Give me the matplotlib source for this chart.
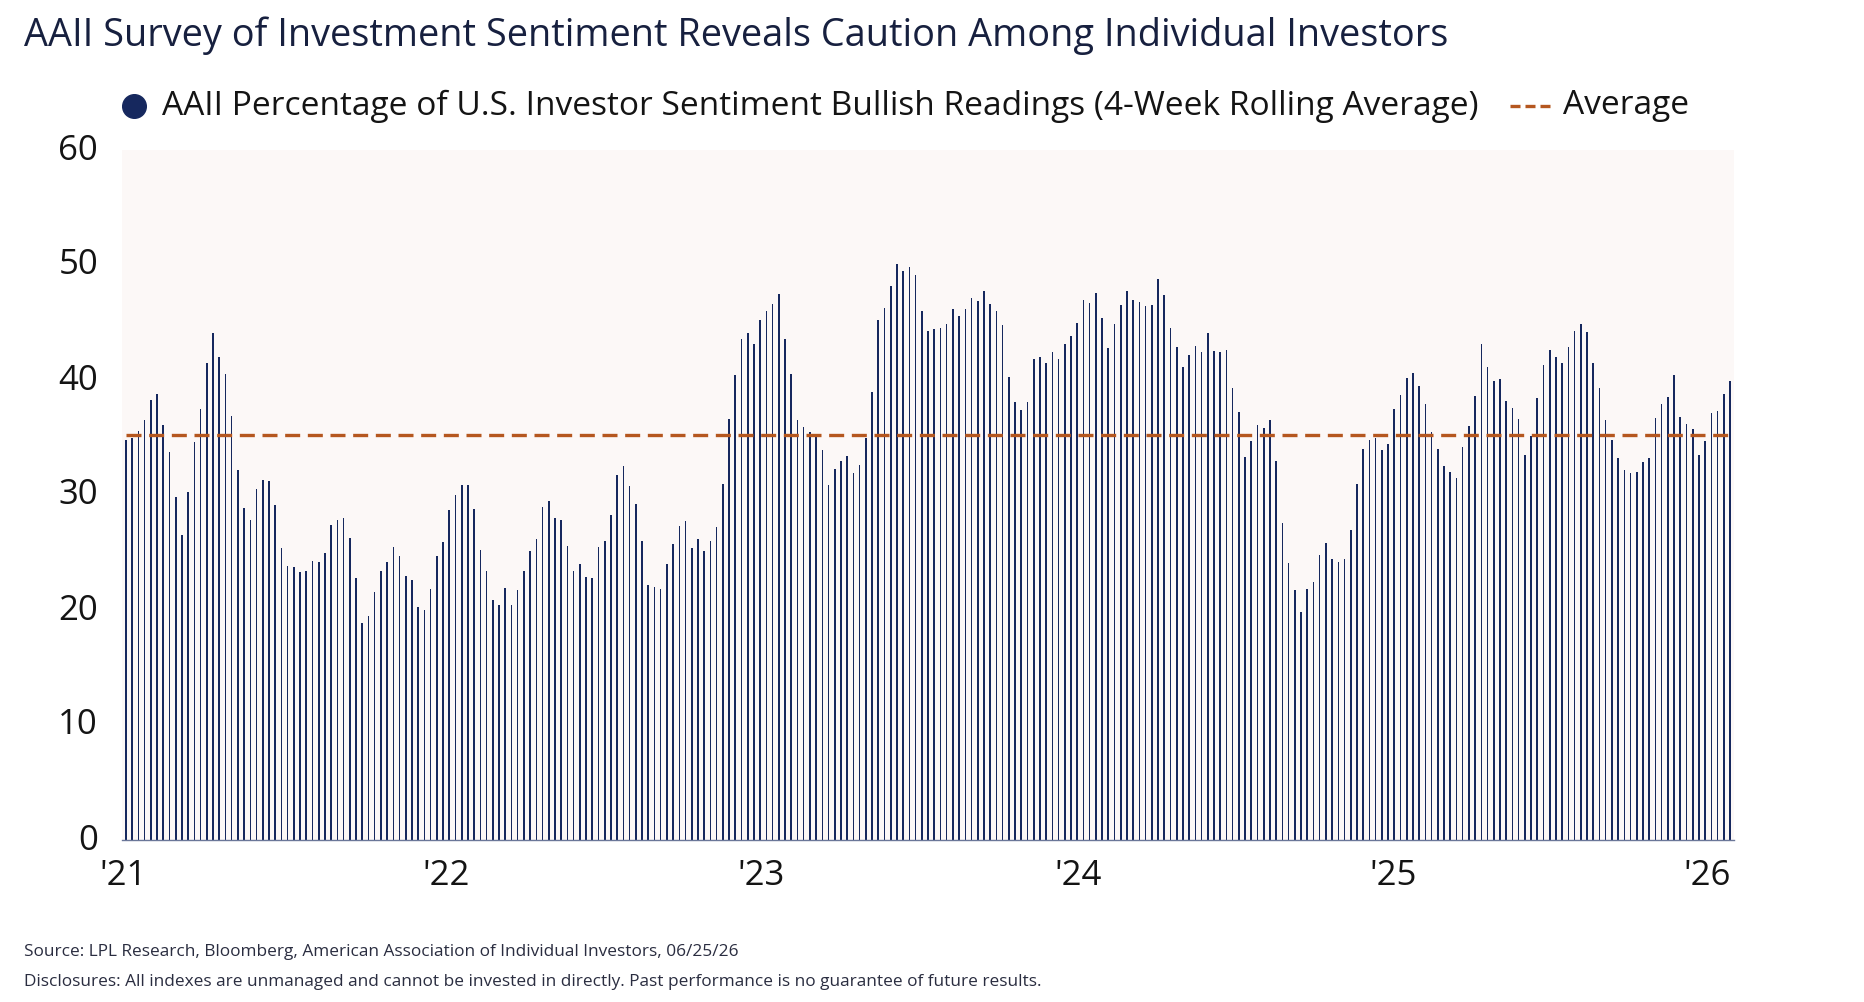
import matplotlib
matplotlib.use("Agg")
import matplotlib.pyplot as plt
from matplotlib.lines import Line2D
from matplotlib.transforms import ScaledTranslation
import numpy as np

plt.rcParams['font.family'] = ['Open Sans', 'DejaVu Sans']

# ---- data (weekly, 4-week rolling average of AAII bullish %) ----
bullish_4wk = [
    34.8, 35.0, 35.6, 36.5, 38.3, 38.8, 36.1, 33.7, 29.8, 26.5, 30.3, 34.6, 37.5, 41.5, 44.1, 42.0, 40.5,
    36.9, 32.2, 28.9, 27.8, 30.5, 31.3, 31.2, 29.1, 25.4, 23.8, 23.7, 23.3, 23.4, 24.3, 24.2, 25.0,
    27.4, 27.8, 28.0, 26.3, 22.8, 18.9, 19.5, 21.6, 23.4, 24.2, 25.5, 24.7, 23.0, 22.6, 20.3, 20.0,
    21.8, 24.7, 25.9, 28.7, 30.0, 30.9, 30.9, 28.8, 25.2, 23.4, 20.9, 20.4, 21.9, 20.4, 21.7, 23.4,
    25.1, 26.2, 29.0, 29.5, 28.0, 27.8, 25.6, 23.4, 24.0, 22.9, 22.8, 25.5, 26.0, 28.3, 31.7, 32.5,
    30.8, 29.2, 26.0, 22.2, 22.0, 21.8, 24.0, 25.7, 27.3, 27.7, 25.4, 26.2, 25.1, 26.0, 27.2, 31.0,
    36.6, 40.4, 43.6, 44.1, 43.1, 45.2, 46.0, 46.6, 47.5, 43.6, 40.5, 36.5, 35.9, 35.5, 35.2, 33.9,
    30.9, 32.3, 33.0, 33.4, 31.9, 32.6, 35.0, 39.0, 45.2, 46.3, 48.2, 50.1, 49.5, 49.8, 49.1, 46.0,
    44.3, 44.4, 44.5, 44.9, 46.2, 45.6, 46.2, 47.1, 46.9, 47.7, 46.6, 46.0, 44.8, 40.3, 38.1, 37.4,
    38.1, 41.8, 42.0, 41.5, 42.4, 41.8, 43.1, 43.8, 45.0, 47.0, 46.7, 47.6, 45.4, 42.8, 44.9, 46.5,
    47.7, 47.0, 46.8, 46.4, 46.5, 48.8, 47.4, 44.5, 42.9, 41.1, 42.2, 43.0, 42.4, 44.1, 42.5, 42.4,
    42.6, 39.3, 37.2, 33.3, 34.7, 36.1, 35.8, 36.5, 33.0, 27.6, 24.1, 21.7, 19.8, 21.8, 22.4, 24.8,
    25.8, 24.4, 24.2, 24.4, 27.0, 31.0, 34.0, 34.8, 35.0, 33.9, 34.4, 37.5, 38.7, 40.2, 40.6, 39.5,
    37.9, 35.5, 34.0, 32.5, 32.0, 31.5, 34.2, 36.0, 38.6, 43.1, 41.1, 39.9, 40.1, 38.2, 37.6, 36.6, 33.5,
    35.1, 38.4, 41.3, 42.6, 42.0, 41.5, 42.9, 44.3, 44.9, 44.2, 41.5, 39.3, 36.5, 34.8, 33.2, 32.2,
    31.9, 32.0, 32.9, 33.2, 36.7, 37.9, 38.5, 40.4, 36.8, 36.2, 35.7, 33.5, 34.7, 37.1, 37.3, 38.8, 39.9,
]
average_value = 35.2

year_labels = ["'21", "'22", "'23", "'24", "'25", "'26"]
year_tick_pos = [-0.5, 51.5, 102.2, 153.2, 203.8, 254.3]   # week index of each year label
y_ticks = [0, 10, 20, 30, 40, 50, 60]

title = "AAII Survey of Investment Sentiment Reveals Caution Among Individual Investors"
series_label = "AAII Percentage of U.S. Investor Sentiment Bullish Readings (4-Week Rolling Average)"
avg_label = "Average"
source = "Source: LPL Research, Bloomberg, American Association of Individual Investors, 06/25/26"
disclosure = "Disclosures: All indexes are unmanaged and cannot be invested in directly. Past performance is no guarantee of future results."

# ---- style ----
NAVY = '#16285e'
ORANGE = '#b5571f'
BG = '#fcf8f7'
TEXT = '#141414'
TITLE_C = '#17203f'

W, H = 1864, 1002
fig = plt.figure(figsize=(W / 100, H / 100), dpi=100)
fig.patch.set_facecolor('white')

ax = fig.add_axes([121.7 / W, 1 - 840 / H, (1734 - 121.7) / W, (840 - 150) / H])
ax.set_facecolor(BG)

x = np.arange(len(bullish_4wk))
ax.bar(x, bullish_4wk, width=0.26, color=NAVY, linewidth=0, zorder=2)
ax.plot([x[0], x[-1]], [average_value, average_value], color=ORANGE, lw=2.4,
        dashes=(4.5, 2.3), zorder=3)

ax.set_xlim(-0.69, len(bullish_4wk) - 1 + 0.64)
ax.set_ylim(0, 60)
ax.set_yticks(y_ticks)
ax.set_yticklabels([str(v) for v in y_ticks])
ax.set_xticks(year_tick_pos)
ax.set_xticklabels(year_labels)
ax.tick_params(axis='y', length=0, pad=17, labelsize=25, labelcolor=TEXT)
ax.tick_params(axis='x', length=0, pad=14, labelsize=25, labelcolor=TEXT)
shift_up = ScaledTranslation(0, 3.5 / 100, fig.dpi_scale_trans)
for lab in ax.get_yticklabels():
    lab.set_transform(lab.get_transform() + shift_up)
for s in ['top', 'right', 'left']:
    ax.spines[s].set_visible(False)
ax.spines['bottom'].set_color('#6b7799')
ax.spines['bottom'].set_linewidth(1.0)

# ---- title ----
fig.text(24 / W, 1 - 36 / H, title, fontsize=27.3, color=TITLE_C, ha='left', va='center')

# ---- legend (manual) ----
ly = 1 - 106 / H
fig.add_artist(Line2D([134 / W], [ly], marker='o', markersize=17, color=NAVY,
                      linestyle='none', transform=fig.transFigure))
fig.text(162 / W, ly, series_label, fontsize=24.1, color=TEXT, ha='left', va='center')
fig.add_artist(Line2D([1510 / W, 1551 / W], [ly, ly], color=ORANGE, lw=2.4,
                      dashes=(3.0, 1.5), transform=fig.transFigure))
fig.text(1563 / W, ly, avg_label, fontsize=24.1, color=TEXT, ha='left', va='center')

# ---- footnotes ----
fig.text(24 / W, 1 - 952 / H, source, fontsize=12.4, color='#2a2d40', ha='left', va='center')
fig.text(24 / W, 1 - 982 / H, disclosure, fontsize=12.4, color='#2a2d40', ha='left', va='center')

fig.savefig('out.png', dpi=100)
